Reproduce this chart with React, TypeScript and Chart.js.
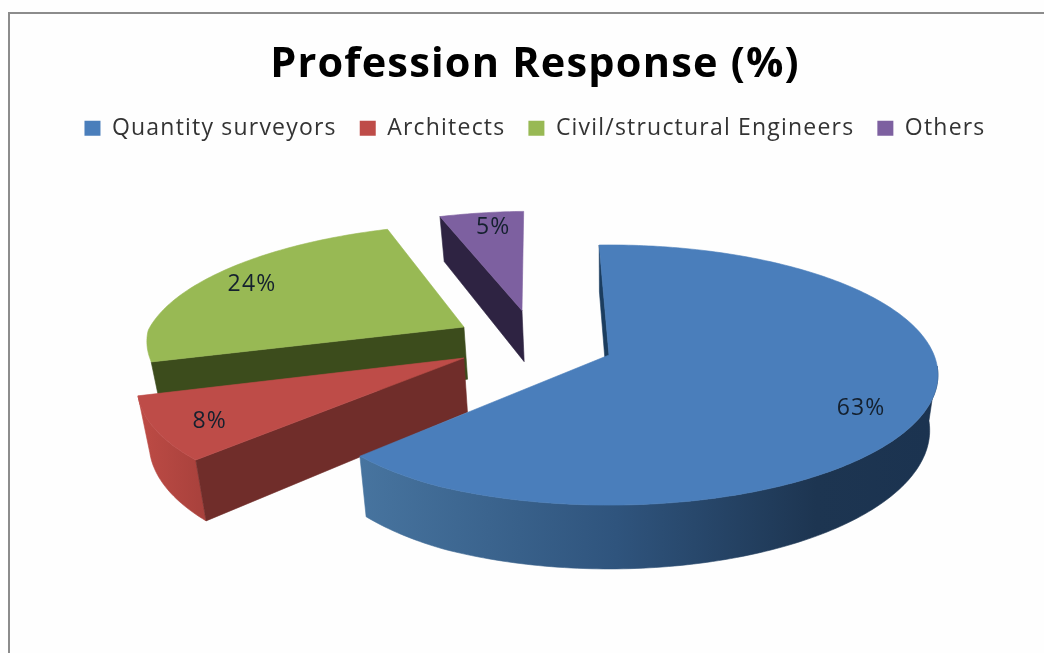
import React, { useEffect, useRef } from "react";
import { Chart, registerables } from "chart.js";

Chart.register(...registerables);

const categories = ["Quantity surveyors", "Architects", "Civil/structural Engineers", "Others"];
const shares = [63, 8, 24, 5];

const topColors = ["#4a7ebb", "#be4c48", "#98b954", "#7d60a0"];
const radialWallColors = ["#1b3d5f", "#702d2a", "#3c4c1c", "#2e2342"];
const outerWallColors = ["#2d5078", "#b0463f", "#5f7a2f", "#4a3866"];
// Only the two front slices show their curved wall to the camera.
const showsOuterWall = [true, true, false, false];

// Explosion of each slice, in units of the pie radius on the pie's own plane.
const explodeU = [0, -0.445, -0.462, -0.283];
const explodeV = [0, 0.024, -0.228, -0.37];
// Small angular nudge of each percentage label from its slice's bisector, in degrees.
const labelNudge = [7.3, -2.7, 0.3, 1.4];

// Perspective camera used to lay the pie on its tilted plane.
const CX = 609;
const CY = 355;
const RX = 325;
const RY = 127;
const TILT = 0.154;
const DEPTH = 54;
const FLOOR_SCALE = 0.975;
const LABEL_RADIUS = 0.83;
const TEXT_TRACKING = "1.2px";

type Pt = { x: number; y: number; p: number };

const clamp01 = (n: number) => Math.max(0, Math.min(1, n));

const project = (u: number, v: number): Pt => {
  const p = 1 / (1 - TILT * v);
  return { x: CX + RX * u * p, y: CY + RY * v * p, p };
};
// Same projection, with the near-left of the plane pulled in slightly as a wide lens does.
const projectRim = (u: number, v: number): Pt => {
  const q = project(u, v);
  q.x += 8 * clamp01((-u - 0.45) / 0.25) * clamp01((v + 0.2) / 0.25);
  return q;
};
const floor = (t: Pt): Pt => ({
  x: CX + (t.x - CX) * FLOOR_SCALE,
  y: t.y + DEPTH * t.p,
  p: t.p,
});

const fillPoly = (ctx: CanvasRenderingContext2D, pts: Pt[], fill: string | CanvasGradient) => {
  ctx.beginPath();
  pts.forEach((q, i) => (i ? ctx.lineTo(q.x, q.y) : ctx.moveTo(q.x, q.y)));
  ctx.closePath();
  ctx.fillStyle = fill;
  ctx.fill();
  ctx.strokeStyle = fill;
  ctx.lineWidth = 0.6;
  ctx.stroke();
};

const pie3d = {
  id: "pie3d",
  // The canvas state is reset when the chart sizes it, so tracking is applied per pass.
  beforeLayout(chart: any) {
    chart.ctx.letterSpacing = TEXT_TRACKING;
  },
  beforeDraw(chart: any) {
    const { ctx, width, height } = chart;
    ctx.letterSpacing = TEXT_TRACKING;
    ctx.save();
    ctx.fillStyle = "#fefefe";
    ctx.fillRect(0, 0, width, height);
    ctx.strokeStyle = "#8c8c8c";
    ctx.lineWidth = 2;
    ctx.beginPath();
    ctx.moveTo(9, height);
    ctx.lineTo(9, 13);
    ctx.lineTo(width, 13);
    ctx.stroke();
    ctx.restore();
  },
  // The slices are extruded here from the angles the pie controller computed.
  beforeDatasetDraw(chart: any) {
    const { ctx } = chart;
    const arcs = chart.getDatasetMeta(0).data;
    const order = [3, 2, 1, 0];
    ctx.save();
    for (const i of order) {
      const a0 = arcs[i].startAngle + Math.PI / 2;
      const a1 = arcs[i].endAngle + Math.PI / 2;
      const U = explodeU[i];
      const V = explodeV[i];
      const steps = Math.max(8, Math.round(((a1 - a0) * 180) / Math.PI));
      const rim: Pt[] = [];
      const wallRim: Pt[] = [];
      for (let s = 0; s <= steps; s++) {
        const th = a0 + ((a1 - a0) * s) / steps;
        const q = projectRim(U + Math.sin(th), V - Math.cos(th));
        rim.push(q);
        if (-Math.cos(th) > 0.08) wallRim.push(q);
      }
      const tip = project(U, V);

      if (showsOuterWall[i]) {
        let wall: string | CanvasGradient = outerWallColors[i];
        if (i === 0) {
          const g = ctx.createLinearGradient(360, 0, 930, 0);
          g.addColorStop(0, "#47749f");
          g.addColorStop(0.45, "#2f547d");
          g.addColorStop(0.8, "#1d3551");
          g.addColorStop(1, "#1b3350");
          wall = g;
        } else {
          const g = ctx.createLinearGradient(140, 0, 205, 0);
          g.addColorStop(0, "#bd4b45");
          g.addColorStop(1, "#a8413c");
          wall = g;
        }
        fillPoly(ctx, [...wallRim, ...wallRim.map(floor).reverse()], wall);
      }
      fillPoly(ctx, [tip, rim[0], floor(rim[0]), floor(tip)], radialWallColors[i]);
      fillPoly(ctx, [tip, ...rim], topColors[i]);
    }

    ctx.font = "23px 'Open Sans'";
    ctx.textAlign = "center";
    ctx.textBaseline = "middle";
    ctx.fillStyle = "#14202e";
    for (let i = 0; i < arcs.length; i++) {
      const mid = (arcs[i].startAngle + arcs[i].endAngle) / 2 + Math.PI / 2 + (labelNudge[i] * Math.PI) / 180;
      const at = project(
        explodeU[i] + LABEL_RADIUS * Math.sin(mid),
        explodeV[i] - LABEL_RADIUS * Math.cos(mid),
      );
      ctx.fillText(`${shares[i]}%`, at.x, at.y);
    }
    ctx.restore();
    return false;
  },
};

export default function App() {
  const ref = useRef<HTMLCanvasElement>(null);
  useEffect(() => {
    const chart = new Chart(ref.current!, {
      type: "pie",
      data: {
        labels: categories,
        datasets: [{ data: shares, backgroundColor: topColors, borderWidth: 0 }],
      },
      options: {
        responsive: false,
        animation: false,
        rotation: -2,
        layout: { padding: { left: 26, top: 40 } },
        plugins: {
          tooltip: { enabled: false },
          title: {
            display: true,
            text: "Profession Response (%)",
            color: "#000",
            font: { family: "Open Sans", size: 41.5, weight: "bold" },
            padding: { top: 0, bottom: 4 },
          },
          legend: {
            position: "top",
            labels: {
              color: "#333",
              font: { family: "Open Sans", size: 23 },
              boxWidth: 16,
              boxHeight: 15,
              padding: 23,
            },
          },
        },
      },
      plugins: [pie3d],
    });
    return () => chart.destroy();
  }, []);
  return (
    <canvas
      ref={ref}
      width={1044}
      height={653}
      style={{ position: "absolute", left: 0, top: 0, width: 1044, height: 653 }}
    />
  );
}
